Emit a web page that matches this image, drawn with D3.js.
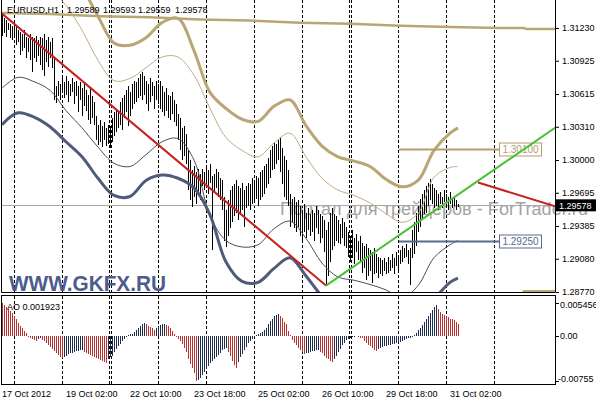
<!DOCTYPE html>
<html><head><meta charset="utf-8">
<script src="https://cdn.jsdelivr.net/npm/d3@7"></script>
<style>
body{margin:0;background:#fff;}
svg{display:block;font-family:"Liberation Sans",Arial,sans-serif;}
</style>
</head><body>
<svg id="chart" width="596" height="400"></svg>
<script>
// ---------------- DATA ----------------
const symbolLabel = "EURUSD,H1";
const lastOHLC = [1.29589, 1.29593, 1.29559, 1.29578];

const highs = [
1.3136,1.3132,1.3130,1.3128,1.3127,1.3125,1.3123,1.3125,1.3121,1.3119,
1.3117,1.3121,1.3115,1.3114,1.3117,1.3115,1.3114,1.3116,1.3112,1.3115,
1.3114,1.3117,1.3112,1.3115,1.3110,1.3114,1.3095,1.3069,1.3074,1.3071,
1.3076,1.3073,1.3078,1.3074,1.3071,1.3076,1.3073,1.3074,1.3069,1.3073,
1.3067,1.3071,1.3065,1.3061,1.3067,1.3060,1.3054,1.3041,1.3033,1.3037,
1.3032,1.3035,1.3030,1.3033,1.3032,1.3039,1.3045,1.3048,1.3046,1.3054,
1.3058,1.3061,1.3065,1.3069,1.3063,1.3071,1.3074,1.3073,1.3076,1.3080,
1.3082,1.3078,1.3074,1.3071,1.3076,1.3073,1.3069,1.3074,1.3071,1.3074,
1.3069,1.3063,1.3067,1.3061,1.3060,1.3063,1.3056,1.3052,1.3043,1.3039,
1.3030,1.3032,1.3024,1.3009,1.3000,1.2991,1.2994,1.2989,1.2992,1.2987,
1.2992,1.2989,1.2994,1.2991,1.2996,1.2985,1.2987,1.2992,1.2989,1.2983,
1.2981,1.2966,1.2953,1.2963,1.2972,1.2976,1.2978,1.2981,1.2976,1.2974,
1.2979,1.2972,1.2976,1.2979,1.2978,1.2983,1.2981,1.2985,1.2983,1.2989,
1.2991,1.2994,1.2996,1.3002,1.3009,1.3013,1.3017,1.3015,1.3019,1.3021,
1.3011,1.3004,1.3000,1.2991,1.2968,1.2964,1.2966,1.2961,1.2963,1.2957,
1.2953,1.2959,1.2951,1.2955,1.2950,1.2953,1.2951,1.2957,1.2953,1.2950,
1.2948,1.2944,1.2935,1.2942,1.2951,1.2955,1.2950,1.2948,1.2944,1.2940,
1.2946,1.2942,1.2938,1.2933,1.2929,1.2935,1.2927,1.2931,1.2925,1.2929,
1.2923,1.2920,1.2922,1.2918,1.2916,1.2914,1.2918,1.2912,1.2910,1.2909,
1.2907,1.2909,1.2905,1.2910,1.2907,1.2912,1.2909,1.2914,1.2910,1.2916,
1.2920,1.2918,1.2922,1.2916,1.2918,1.2935,1.2942,1.2951,1.2957,1.2964,
1.2968,1.2972,1.2976,1.2979,1.2982,1.2978,1.2974,1.2972,1.2968,1.2970,
1.2966,1.2972,1.2968,1.2966,1.2970,1.2964,1.2966,1.2963,1.29593];

const lows = [
1.3116,1.3118,1.3115,1.3121,1.3114,1.3112,1.3115,1.3107,1.3110,1.3098,
1.3102,1.3104,1.3095,1.3101,1.3093,1.3082,1.3095,1.3091,1.3097,1.3089,
1.3084,1.3078,1.3091,1.3087,1.3095,1.3086,1.3056,1.3053,1.3060,1.3056,
1.3063,1.3058,1.3061,1.3054,1.3060,1.3063,1.3052,1.3060,1.3045,1.3056,
1.3041,1.3050,1.3046,1.3037,1.3034,1.3039,1.3033,1.3019,1.3014,1.3017,
1.3012,1.3019,1.3013,1.3015,1.3011,1.3017,1.3022,1.3026,1.3030,1.3033,
1.3028,1.3039,1.3045,1.3032,1.3041,1.3048,1.3052,1.3054,1.3058,1.3060,
1.3056,1.3061,1.3052,1.3046,1.3054,1.3060,1.3048,1.3056,1.3052,1.3048,
1.3045,1.3041,1.3046,1.3039,1.3037,1.3043,1.3035,1.3032,1.3019,1.3009,
1.3000,1.3004,1.2996,1.2972,1.2963,1.2956,1.2966,1.2959,1.2970,1.2963,
1.2976,1.2972,1.2978,1.2968,1.2979,1.2916,1.2970,1.2974,1.2966,1.2963,
1.2953,1.2925,1.2919,1.2929,1.2937,1.2942,1.2948,1.2951,1.2944,1.2950,
1.2953,1.2938,1.2955,1.2957,1.2953,1.2959,1.2961,1.2964,1.2957,1.2963,
1.2966,1.2968,1.2974,1.2978,1.2983,1.2991,1.2992,1.2996,1.3000,1.2989,
1.2978,1.2966,1.2963,1.2957,1.2938,1.2942,1.2937,1.2933,1.2938,1.2929,
1.2925,1.2933,1.2927,1.2935,1.2929,1.2933,1.2925,1.2937,1.2931,1.2923,
1.2927,1.2914,1.2883,1.2892,1.2905,1.2916,1.2920,1.2925,1.2923,1.2922,
1.2927,1.2920,1.2918,1.2910,1.2905,1.2909,1.2903,1.2914,1.2907,1.2905,
1.2895,1.2899,1.2888,1.2892,1.2897,1.2885,1.2894,1.2895,1.2890,1.2894,
1.2892,1.2897,1.2894,1.2895,1.2897,1.2899,1.2894,1.2901,1.2897,1.2903,
1.2905,1.2909,1.2910,1.2903,1.2884,1.2909,1.2912,1.2920,1.2933,1.2938,
1.2944,1.2950,1.2951,1.2957,1.2963,1.2959,1.2955,1.2957,1.2953,1.2959,
1.2955,1.2961,1.2957,1.2953,1.2959,1.2955,1.2957,1.2953,1.29559];

const aoValues = [
0.005456,0.00517,0.00483,0.00450,0.00417,0.00383,0.00333,0.00283,0.00217,0.00167,
0.00133,0.00083,0.00050,-0.00017,-0.00033,-0.00050,-0.00067,-0.00083,-0.00050,-0.00042,
-0.00067,-0.00083,-0.00117,-0.00150,-0.00183,-0.00217,-0.00250,-0.00283,-0.00317,-0.00350,
-0.00367,-0.00350,-0.00333,-0.00300,-0.00292,-0.00283,-0.00267,-0.00258,-0.00250,-0.00242,
-0.00233,-0.00267,-0.00283,-0.00300,-0.00325,-0.00342,-0.00358,-0.00375,-0.00392,-0.00408,
-0.00425,-0.00442,-0.00450,-0.00383,-0.00358,-0.00333,-0.00267,-0.00217,-0.00167,-0.00133,
-0.00083,-0.00050,-0.00017,0.00017,0.00025,0.00033,0.00067,0.00100,0.00133,0.00167,
0.00200,0.00208,0.00192,0.00167,0.00150,0.00133,0.00100,0.00125,0.00150,0.00175,
0.00192,0.00200,0.00183,0.00167,0.00133,0.00083,0.00033,-0.00017,-0.00050,-0.00083,
-0.00133,-0.00200,-0.00267,-0.00383,-0.00467,-0.00533,-0.00617,-0.00755,-0.00733,-0.00700,
-0.00650,-0.00600,-0.00550,-0.00500,-0.00450,-0.00417,-0.00383,-0.00350,-0.00317,-0.00283,
-0.00233,-0.00217,-0.00200,-0.00267,-0.00333,-0.00417,-0.00483,-0.00533,-0.00433,-0.00350,
-0.00300,-0.00233,-0.00183,-0.00117,-0.00083,-0.00050,-0.00017,0.00017,0.00033,0.00050,
0.00067,0.00100,0.00133,0.00200,0.00250,0.00283,0.00333,0.00350,0.00367,0.00333,
0.00300,0.00233,0.00200,0.00083,0.00017,-0.00067,-0.00117,-0.00150,-0.00200,-0.00233,
-0.00267,-0.00300,-0.00292,-0.00283,-0.00267,-0.00258,-0.00250,-0.00242,-0.00233,-0.00267,
-0.00283,-0.00333,-0.00367,-0.00383,-0.00417,-0.00433,-0.00383,-0.00333,-0.00267,-0.00217,
-0.00150,-0.00117,-0.00067,-0.00050,-0.00033,-0.00025,-0.00017,-0.00008,-0.00025,-0.00033,
-0.00042,-0.00083,-0.00117,-0.00150,-0.00167,-0.00200,-0.00233,-0.00250,-0.00225,-0.00208,
-0.00183,-0.00175,-0.00167,-0.00158,-0.00150,-0.00142,-0.00133,-0.00117,-0.00108,-0.00100,
-0.00083,-0.00067,-0.00050,-0.00042,-0.00033,-0.00017,0.00017,0.00050,0.00100,0.00133,
0.00183,0.00233,0.00283,0.00333,0.00383,0.00433,0.00483,0.00517,0.00450,0.00400,
0.00367,0.00350,0.00333,0.00317,0.00283,0.00275,0.00267,0.00233,0.001923];

// envelope bands, sampled every 8 bars
const bandIdx = [0,8,16,24,32,40,48,56,64,72,80,88,96,104,112,120,128,136,144,152,160,168,176,184,192,200,208,216,224,228];
const upperOuter = [1.3177,1.3182,1.3185,1.3182,1.3175,1.3160,1.3134,1.3109,1.3107,1.3114,1.3128,1.3132,1.3102,1.3063,1.3048,1.3038,1.3036,1.3050,1.3056,1.3032,1.3013,1.3003,1.2999,1.2994,1.2982,1.2975,1.2981,1.3009,1.3025,1.3030];
const upperInner = [1.3186,1.3182,1.3172,1.3160,1.3144,1.3121,1.3093,1.3074,1.3076,1.3086,1.3096,1.3096,1.3079,1.3048,1.3021,1.3009,1.3003,1.3016,1.3025,1.3003,1.2983,1.2972,1.2967,1.2960,1.2950,1.2942,1.2950,1.2984,1.2993,1.2994];
const lowerInner = [1.3067,1.3077,1.3073,1.3065,1.3046,1.3030,1.3012,1.2997,1.2994,1.3005,1.3017,1.3020,1.3000,1.2948,1.2925,1.2919,1.2921,1.2936,1.2943,1.2927,1.2904,1.2891,1.2888,1.2884,1.2879,1.2871,1.2883,1.2909,1.2921,1.2925];
const lowerOuter = [1.3033,1.3044,1.3040,1.3031,1.3017,1.3003,1.2983,1.2967,1.2966,1.2981,1.2986,1.2983,1.2974,1.2949,1.2905,1.2887,1.2886,1.2899,1.2909,1.2892,1.2873,1.2860,1.2855,1.2853,1.2851,1.2853,1.2860,1.2871,1.2886,1.2890];

// long shifted averages
const longIdx = [-1,24,49,74,99,124,149,174,199,224,249,261,262,276.5];
const longUpper = [1.3137,1.3136,1.3134,1.3133,1.3131,1.3130,1.3128,1.3127,1.3125,1.3124,1.3123,1.3123,1.3122,1.3122];
const longLowerIdx = [-1,260,261,276.5];
const longLower = [1.2868,1.2872,1.28776,1.28776];

// trend lines [barIndex, price]
const trendDown = [[-1,1.3138],[162,1.2883]];
const trendUp = [[162,1.2883],[276.5,1.3030]];
const trendShort = [[238,1.2979],[276.5,1.2957]];

// horizontal levels
const levelPrices = [1.30100, 1.29250];
const levelStartIdx = 198.5;
const levelLabelIdx = [248.5, 269.5];

const priceTicks = [1.31230,1.30925,1.30615,1.30310,1.30000,1.29695,1.29385,1.29080,1.28770];
const aoTicks = [0.005456, 0, -0.00755];
const timeLabels = ["17 Oct 2012","19 Oct 02:00","22 Oct 10:00","23 Oct 18:00","25 Oct 02:00","26 Oct 10:00","29 Oct 18:00","31 Oct 02:00"];
const timeLabelIdx = [0,32,64,96,128,160,192,224];
const separatorIdx = [6,30,54,78,102,126,150,174,198,222,246];
const weekSeparatorIdx = [54,174];

// ---------------- DRAW ----------------
const FS = "9px";
const svg = d3.select("#chart");
const x = d3.scaleLinear().domain([0, 276.5]).range([2, 555]);
const y = d3.scaleLinear().domain([1.28761, 1.31491]).range([293, 0]);
const yAO = d3.scaleLinear().domain([-0.00755, 0.005456]).range([381, 303]);

const defs = svg.append("defs");
defs.append("clipPath").attr("id","clipMain").append("rect").attr("x",2).attr("y",0).attr("width",553).attr("height",292);
defs.append("clipPath").attr("id","clipAO").append("rect").attr("x",2).attr("y",296).attr("width",553).attr("height",88);

svg.append("rect").attr("width",596).attr("height",400).attr("fill","#fff");

// watermark (behind everything)
svg.append("text").attr("x",280).attr("y",215).attr("font-size","17.5px")
  .attr("fill","#a3a3a3").attr("textLength",308).attr("lengthAdjust","spacingAndGlyphs")
  .text("Портал для трейдеров - ForTrader.ru");

const main = svg.append("g").attr("clip-path","url(#clipMain)");
const ao = svg.append("g").attr("clip-path","url(#clipAO)");

// separators
function seps(g, y0, y1){
  separatorIdx.forEach(i=>{
    const xs = weekSeparatorIdx.includes(i) ? [Math.round(x(i))-0.5, Math.round(x(i))+1.5] : [Math.round(x(i))+0.5];
    xs.forEach(xx=>{
      g.append("line").attr("x1",xx).attr("x2",xx).attr("y1",y0).attr("y2",y1)
        .attr("stroke","#000").attr("stroke-width",1).attr("stroke-dasharray","3,2")
        .attr("shape-rendering","crispEdges");
    });
  });
}
seps(main, 0, 292);
seps(ao, 296, 384);

// current price line
main.append("line").attr("x1",2).attr("x2",555)
  .attr("y1",Math.round(y(lastOHLC[3]))+0.5).attr("y2",Math.round(y(lastOHLC[3]))+0.5)
  .attr("stroke","#a8a8a8").attr("stroke-width",1);

// long averages
const lineGen = d3.line().x(d=>x(d[0])).y(d=>y(d[1]));
main.append("path").attr("d", lineGen(longIdx.map((d,i)=>[d,longUpper[i]])))
  .attr("fill","none").attr("stroke","#b9a675").attr("stroke-width",2.5);
main.append("path").attr("d", lineGen(longLowerIdx.map((d,i)=>[d,longLower[i]])))
  .attr("fill","none").attr("stroke","#b9a675").attr("stroke-width",3);

// bars
main.append("g").selectAll("line").data(highs).join("line")
  .attr("x1",(d,i)=>Math.round(x(i))+0.5).attr("x2",(d,i)=>Math.round(x(i))+0.5)
  .attr("y1",d=>y(d)).attr("y2",(d,i)=>y(lows[i]))
  .attr("stroke","#000").attr("stroke-width",1).attr("shape-rendering","crispEdges");

// bands
const curve = d3.line().x(d=>x(d[0])).y(d=>y(d[1])).curve(d3.curveCatmullRom.alpha(0.5));
function band(vals, color, w){
  main.append("path").attr("d", curve(bandIdx.map((d,i)=>[d, vals[i]])))
    .attr("fill","none").attr("stroke",color).attr("stroke-width",w);
}
band(upperInner, "#c2ad85", 1);
band(lowerInner, "#4a505c", 1);
band(upperOuter, "#b9a675", 3);
band(lowerOuter, "#4e5b7a", 3);

// horizontal levels
const levelColors = ["#b39e6c", "#5a6a8c"];
levelPrices.forEach((p,k)=>{
  const yy = Math.round(y(p))+0.5;
  main.append("line").attr("x1",x(levelStartIdx)).attr("x2",x(levelLabelIdx[0])).attr("y1",yy).attr("y2",yy)
    .attr("stroke",levelColors[k]).attr("stroke-width",2);
  main.append("rect").attr("x",Math.round(x(levelLabelIdx[0]))+0.5).attr("y",yy-6.5)
    .attr("width",x(levelLabelIdx[1])-x(levelLabelIdx[0])).attr("height",13)
    .attr("fill","#fff").attr("stroke",levelColors[k]).attr("stroke-width",1);
  main.append("text").attr("x",(x(levelLabelIdx[0])+x(levelLabelIdx[1]))/2+0.5).attr("y",yy+3.8)
    .attr("text-anchor","middle").attr("font-size","10px").attr("fill",levelColors[k])
    .text(d3.format(".5f")(p));
});

// trend lines
main.append("path").attr("d",lineGen(trendDown)).attr("stroke","#c8201f").attr("stroke-width",2).attr("fill","none");
main.append("path").attr("d",lineGen(trendUp)).attr("stroke","#4cbf3a").attr("stroke-width",2).attr("fill","none");
main.append("path").attr("d",lineGen(trendShort)).attr("stroke","#c8201f").attr("stroke-width",2).attr("fill","none");

// WWW.GKFX.RU
svg.append("text").attr("x",9).attr("y",291).attr("font-size","22px").attr("font-weight","bold")
  .attr("fill","#4d5c8f").attr("textLength",157).attr("lengthAdjust","spacingAndGlyphs").text("WWW.GKFX.RU");

// header
const hdr = svg.append("g").attr("font-size",FS).attr("fill","#000");
hdr.append("text").attr("x",7).attr("y",12.5).text(symbolLabel);
const hdrX = [67,103,138,175];
lastOHLC.forEach((v,i)=>hdr.append("text").attr("x",hdrX[i]).attr("y",12.5).text(d3.format(".5f")(v)));

// AO histogram
ao.append("g").selectAll("line").data(aoValues).join("line")
  .attr("x1",(d,i)=>Math.round(x(i))+0.5).attr("x2",(d,i)=>Math.round(x(i))+0.5)
  .attr("y1",yAO(0)).attr("y2",d=>yAO(d))
  .attr("stroke",(d,i)=> (i>0 && d>aoValues[i-1]) ? "#1f2c4c" : "#b8312f")
  .attr("stroke-width",1).attr("shape-rendering","crispEdges");
svg.append("text").attr("x",7).attr("y",310).attr("font-size",FS).text("AO " + aoValues[aoValues.length-1].toFixed(6));

// frames
svg.append("path").attr("d","M1.5,-1 V292.5 H555.5 V-1").attr("fill","none").attr("stroke","#000").attr("stroke-width",1);
svg.append("rect").attr("x",1.5).attr("y",295.5).attr("width",554).attr("height",89).attr("fill","none").attr("stroke","#000").attr("stroke-width",1);

// price axis
const pAxis = svg.append("g").attr("transform","translate(556,0)")
  .call(d3.axisRight(y).tickValues(priceTicks).tickSize(3).tickPadding(3).tickFormat(d3.format(".5f")));
pAxis.select(".domain").remove();
pAxis.selectAll("text").attr("font-size",FS).attr("font-family","Liberation Sans, Arial, sans-serif").attr("fill","#000");
pAxis.selectAll("line").attr("stroke","#000");

// current price box
const cy = y(lastOHLC[3]);
svg.append("rect").attr("x",556).attr("y",cy-6).attr("width",40).attr("height",12).attr("fill","#000");
svg.append("text").attr("x",559).attr("y",cy+3.3).attr("font-size",FS).attr("fill","#fff").text(d3.format(".5f")(lastOHLC[3]));

// AO axis
const aoFmt = d => d===0 ? "0.00" : String(d);
const aoNudge = [2, 0, -2];
aoTicks.forEach((v,k)=>{
  const yy = yAO(v);
  svg.append("line").attr("x1",556).attr("x2",559).attr("y1",Math.round(yy)+0.5).attr("y2",Math.round(yy)+0.5).attr("stroke","#000");
  svg.append("text").attr("x",v<0?558:560).attr("y",yy+aoNudge[k]+3.2).attr("font-size",FS).text(aoFmt(v));
});

// time axis labels
timeLabels.forEach((t,k)=>{
  svg.append("text").attr("x",x(timeLabelIdx[k])).attr("y",397).attr("font-size",FS).text(t);
});
</script>
</body></html>
